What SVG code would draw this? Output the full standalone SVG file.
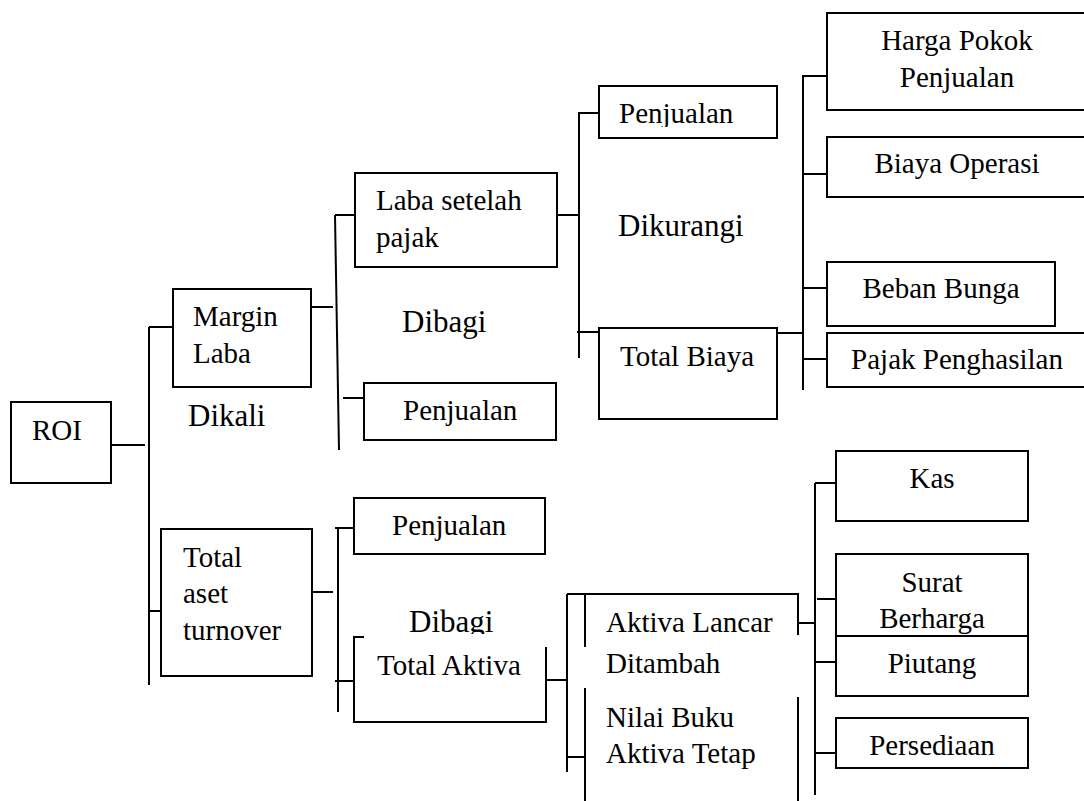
<svg xmlns="http://www.w3.org/2000/svg" width="1084" height="801" viewBox="0 0 1084 801">
<style>
.b{fill:#fff;stroke:#000;stroke-width:2}
.o{fill:none;stroke:#000;stroke-width:2}
text{font-family:'Liberation Serif','DejaVu Serif',serif;fill:#000}
.t{font-size:29px}
.op{font-size:31px}
.m{text-anchor:middle}
</style>
<defs>
<clipPath id="clipDibagi"><rect x="380" y="590" width="140" height="44"/></clipPath>
<clipPath id="clipPenj"><rect x="600" y="88" width="170" height="39"/></clipPath>
</defs>
<rect x="0" y="0" width="1084" height="801" fill="#fff"/>

<g id="connectors" class="o">
<path d="M111,445 H145"/>
<path d="M149,327 V685"/>
<path d="M149,327 H173"/>
<path d="M149,611 H161"/>
<path d="M311,307 H333"/>
<path d="M335,215 L339,450"/>
<path d="M335,215 H355"/>
<path d="M343,398 H364"/>
<path d="M557,215 H579"/>
<path d="M579,112 V358"/>
<path d="M579,113 H599"/>
<path d="M577,332 H599"/>
<path d="M777,333 H803"/>
<path d="M803,75 V390"/>
<path d="M803,76 H827"/>
<path d="M803,174 H827"/>
<path d="M803,288 H827"/>
<path d="M803,359 H827"/>
<path d="M312,592 H333"/>
<path d="M338,528 V712"/>
<path d="M335,528 H358"/>
<path d="M335,681 H354"/>
<path d="M546,680 H567"/>
<path d="M567,594 V772"/>
<path d="M567,594 H585"/>
<path d="M567,757 H585"/>
<path d="M797,623 H815"/>
<path d="M815,483 V795"/>
<path d="M815,483 H836"/>
<path d="M817,599 H840"/>
<path d="M815,662 H836"/>
<path d="M815,753 H836"/>
</g>

<g id="labels" font-family="Liberation Serif, serif">
<text class="op" x="188" y="426">Dikali</text>
<text class="op" x="402" y="332">Dibagi</text>
<text class="op" x="618" y="236">Dikurangi</text>
<text class="op" x="409" y="632" clip-path="url(#clipDibagi)">Dibagi</text>
<text class="t" x="606" y="673">Ditambah</text>
</g>

<g id="roi"><rect class="b" x="11" y="402" width="100" height="81"/><text class="t" x="32" y="440">ROI</text></g>
<g id="margin-laba"><rect class="b" x="173" y="289" width="138" height="98"/><text class="t" x="193" y="326">Margin</text><text class="t" x="193" y="363">Laba</text></g>
<g id="total-aset-turnover"><rect class="b" x="161" y="529" width="151" height="147"/><text class="t" x="183" y="567">Total</text><text class="t" x="183" y="603">aset</text><text class="t" x="183" y="640">turnover</text></g>
<g id="laba-setelah-pajak"><rect class="b" x="355" y="173" width="202" height="94"/><text class="t" x="376" y="210">Laba setelah</text><text class="t" x="376" y="247">pajak</text></g>
<g id="penjualan-1"><rect class="b" x="364" y="383" width="192" height="57"/><text class="t" x="403" y="420">Penjualan</text></g>
<g id="penjualan-2"><rect class="b" x="599" y="86" width="178" height="52"/><text class="t" x="619" y="123" clip-path="url(#clipPenj)">Penjualan</text></g>
<g id="total-biaya"><rect class="b" x="599" y="328" width="178" height="91"/><text class="t" x="620" y="366">Total Biaya</text></g>
<g id="harga-pokok-penjualan"><rect class="b" x="827" y="13" width="262" height="97"/><text class="t m" x="957" y="50">Harga Pokok</text><text class="t m" x="957" y="87">Penjualan</text></g>
<g id="biaya-operasi"><rect class="b" x="827" y="137" width="262" height="60"/><text class="t m" x="957" y="173">Biaya Operasi</text></g>
<g id="beban-bunga"><rect class="b" x="827" y="262" width="228" height="64"/><text class="t m" x="941" y="298">Beban Bunga</text></g>
<g id="pajak-penghasilan"><rect class="b" x="827" y="333" width="262" height="54"/><text class="t m" x="957" y="369">Pajak Penghasilan</text></g>
<g id="penjualan-3"><rect class="b" x="354" y="498" width="191" height="56"/><text class="t" x="392" y="535">Penjualan</text></g>
<g id="total-aktiva"><path class="o" d="M364,637 H354 V722 H546 V647"/><text class="t" x="377" y="675">Total Aktiva</text></g>
<g id="aktiva-lancar"><path class="o" d="M585,647 V594 H798 V635"/><text class="t" x="606" y="632">Aktiva Lancar</text></g>
<g id="nilai-buku-aktiva-tetap"><path class="o" d="M585,688 V801 M798,697 V801"/><text class="t" x="606" y="727">Nilai Buku</text><text class="t" x="606" y="763">Aktiva Tetap</text></g>
<g id="kas"><rect class="b" x="836" y="451" width="192" height="70"/><text class="t m" x="932" y="488">Kas</text></g>
<g id="surat-berharga"><rect class="b" x="836" y="554" width="192" height="82"/><text class="t m" x="932" y="592">Surat</text><text class="t m" x="932" y="628">Berharga</text></g>
<g id="piutang"><rect class="b" x="836" y="636" width="192" height="60"/><text class="t m" x="932" y="673">Piutang</text></g>
<g id="persediaan"><rect class="b" x="836" y="718" width="192" height="50"/><text class="t m" x="932" y="755">Persediaan</text></g>
</svg>
